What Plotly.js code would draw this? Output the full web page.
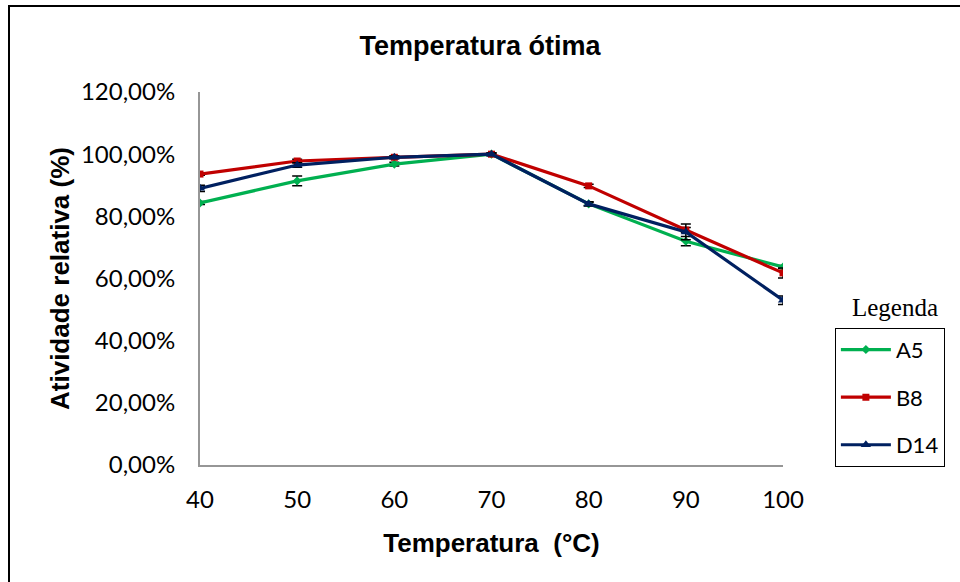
<!DOCTYPE html>
<html>
<head>
<meta charset="utf-8">
<script src="https://cdn.plot.ly/plotly-3.0.1.min.js"></script>
<style>html,body{margin:0;padding:0;background:#fff;}#chart{width:960px;height:582px;}</style>
</head>
<body>
<div id="chart"></div>
<script>
const temperatures = [40, 50, 60, 70, 80, 90, 100];
const a5 = [0.843, 0.914, 0.968, 1.0, 0.840, 0.720, 0.637];
const b8 = [0.936, 0.978, 0.990, 1.0, 0.898, 0.756, 0.618];
const d14 = [0.890, 0.965, 0.990, 1.0, 0.840, 0.750, 0.530];
const a5Err = [0.005, 0.016, 0.006, 0.004, 0.005, 0.015, 0.005];
const b8Err = [0.004, 0.006, 0.004, 0.004, 0.005, 0.008, 0.016];
const d14Err = [0.010, 0.007, 0.004, 0.004, 0.007, 0.025, 0.014];
const seriesNames = ['A5', 'B8', 'D14'];
const colors = ['#00B050', '#C00000', '#002060'];
const symbols = ['diamond', 'square', 'triangle-up'];
const markerSizes = [7, 7, 9];

const values = [a5, b8, d14];
const errs = [a5Err, b8Err, d14Err];
const traces = values.map((v, i) => ({
  x: temperatures, y: v, name: seriesNames[i], type: 'scatter', mode: 'lines+markers',
  legendgroup: seriesNames[i],
  line: {color: colors[i], width: 3.2},
  marker: {color: colors[i], symbol: symbols[i], size: markerSizes[i]},
  error_y: {type: 'data', array: errs[i], visible: true, color: '#000', thickness: 1.5, width: 5}
}));

const layout = {
  width: 960, height: 582,
  margin: {l: 200, r: 177, t: 92, b: 117},
  paper_bgcolor: '#fff', plot_bgcolor: '#fff',
  separators: ',.',
  showlegend: true,
  title: {text: '<b>Temperatura ótima</b>', x: 0.5, xanchor: 'center', y: 0.922, yanchor: 'middle',
          font: {family: 'Liberation Sans, Arial', size: 27, color: '#000'}},
  xaxis: {
    range: [40, 100], tickvals: temperatures, showgrid: false, zeroline: false,
    showline: true, linecolor: '#969696', linewidth: 2, ticks: '', ticklabelstandoff: 12,
    tickfont: {family: 'Lato, Calibri', size: 24, color: '#000'},
    title: {text: '<b>Temperatura  (°C)</b>', font: {family: 'Liberation Sans, Arial', size: 26, color: '#000'}, standoff: 22}
  },
  yaxis: {
    range: [0, 1.2], dtick: 0.2, tickformat: '.2%', showgrid: false, zeroline: false,
    showline: true, linecolor: '#969696', linewidth: 2, ticks: '', ticklabelstandoff: 18,
    tickfont: {family: 'Lato, Calibri', size: 24, color: '#000'},
    title: {text: '<b>Atividade relativa (%)</b>', font: {family: 'Liberation Sans, Arial', size: 26, color: '#000'}, standoff: 4}
  },
  legend: {
    x: 1.089, xanchor: 'left', y: 0.368, yanchor: 'top',
    bordercolor: '#000', borderwidth: 1, bgcolor: '#fff',
    font: {family: 'Lato, Calibri', size: 22, color: '#000'},
    tracegroupgap: 16, itemwidth: 50
  },
  annotations: [{
    text: 'Legenda', xref: 'paper', yref: 'paper', x: (895-200)/583, y: (465-307)/373, xanchor: 'center', yanchor: 'middle',
    showarrow: false, font: {family: 'Liberation Serif, Times New Roman', size: 25, color: '#000'}
  }],
  shapes: [{
    type: 'rect', xref: 'paper', yref: 'paper', x0: (9-200)/583, x1: (975-200)/583,
    y0: (465-600)/373, y1: (465-6)/373, line: {color: '#000', width: 2}, layer: 'below'
  }]
};

Plotly.newPlot('chart', traces, layout, {displayModeBar: false, staticPlot: true});
</script>
</body>
</html>
